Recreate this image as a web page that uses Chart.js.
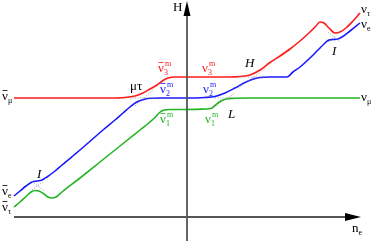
<!DOCTYPE html>
<html><head><meta charset="utf-8">
<script src="https://cdn.jsdelivr.net/npm/chart.js@4/dist/chart.umd.min.js"></script>
<style>html,body{margin:0;padding:0;background:#fff;overflow:hidden}</style>
</head><body>
<canvas id="c" width="374" height="241" style="width:374px;height:241px;display:block"></canvas>
<script>
// n_e (horizontal) and H (vertical) values of each eigenvalue branch
const redNe   = [-173,-127,-77,-62,-52,-44,-37,-30,-24,-19,-12,-2,43,53,63,73,83,93,103,113,123,129,133,137,142,148,153,159,166,173];
const redH    = [119,119,119,119.5,121,124,128,132,136.5,139,140,140,140,140.5,142,147,154.5,161,168,176,185,191,195,194,189,184,185,189,196,204];
const blueNe  = [-173,-167,-161,-155,-150,-145,-140,-132,-125,-107,-84,-72,-64,-57,-51,-45,-39,-27,-2,18,28,38,48,58,65,73,83,100,106,113,123,131,137,141,146,151,155,163,173];
const blueH   = [21,26,31,35,36,37,40,46,52,67,87,97,104,110,114.5,117,118.5,119,119,119.5,120.5,124,129,134.5,137.5,139.5,140,140,145,150,159,167,173,176.5,177.5,178,180,186,194];
const greenNe = [-173,-167,-161,-156,-152,-148,-143,-139,-135,-131,-125,-107,-87,-67,-47,-37,-32,-28,-23,-17,-2,18,24,28,33,39,48,63,173];
const greenH  = [10,15,20.5,25,26.5,26,23,20,19,20,25,39,55,71,87,95,99.5,104,107,107.5,107.5,108,108.5,111.5,115.5,118,118.7,119,119];
// unperturbed level crossings (dotted), pairs of [n_e, H]
const crossMuTau = [[[-57,119],[-31,119]],[[-52,111],[-34,127]]];
const crossH     = [[[51,140],[81,140]],[[51,129],[79,149]]];
const crossL     = [[[28,119],[48,119]],[[25,109],[48,124]]];
const crossIleft = [[[-155,36],[-143,26]],[[-155,27],[-143,36]]];
const crossIright= [[[141,185],[153,175]],[[141,175],[153,185]]];
// axis extents
const axisNe = [-173, 174];
const axisH  = [-24, 216];

const RED='#ff1a1a', BLUE='#1a1aff', GREEN='#22b422';
function curve(xs, ys, color){
  return {data: xs.map((x,i)=>({x, y: ys[i]})), borderColor: color, borderWidth: 1.6,
          pointRadius: 0, cubicInterpolationMode: 'monotone', fill: false, clip: false};
}
function dotted(pairs){
  return pairs.map(seg=>({data: seg.map(p=>({x:p[0], y:p[1]})), borderColor:'#888', borderWidth:0.8,
          borderDash:[1,1.5], pointRadius:0, fill:false, clip:false}));
}

// labels: [n_e, H(baseline), base, bar, sub, sup, color, style]
const labels = [
  [-185,117,'ν',true,'μ','', '#000',''],
  [-185,22,'ν',true,'e','', '#000',''],
  [-185,6,'ν',true,'τ','', '#000',''],
  [174,204,'ν',false,'τ','', '#000',''],
  [174,189,'ν',false,'e','', '#000',''],
  [174,116,'ν',false,'μ','', '#000',''],
  [-29,145,'ν',true,'3','m', RED,''],
  [-27,124,'ν',true,'2','m', BLUE,''],
  [-27,94,'ν',true,'1','m', GREEN,''],
  [15,145,'ν',false,'3','m', RED,''],
  [16,124,'ν',false,'2','m', BLUE,''],
  [18,94,'ν',false,'1','m', GREEN,''],
  [-57,127,'μτ',false,'','', '#000',''],
  [58,150,'H',false,'','', '#000','italic '],
  [41,99,'L',false,'','', '#000','italic '],
  [-150,39,'I',false,'','', '#000','italic '],
  [145,162,'I',false,'','', '#000','italic '],
  [-14,206,'H',false,'','', '#000',''],
  [165,-15,'n',false,'e','', '#000','']
];

const overlay = {
  id:'overlay',
  afterDatasetsDraw(chart){
    const {ctx, scales:{x, y}} = chart;
    const x0 = x.getPixelForValue(0), y0 = y.getPixelForValue(0);
    ctx.save();
    ctx.strokeStyle = '#555'; ctx.lineWidth = 1.8;
    // vertical H axis
    const yTop = y.getPixelForValue(axisH[1]);
    ctx.beginPath(); ctx.moveTo(x0, y.getPixelForValue(axisH[0])); ctx.lineTo(x0, yTop+12); ctx.stroke();
    ctx.fillStyle = '#000';
    ctx.beginPath(); ctx.moveTo(x0, yTop); ctx.lineTo(x0-3.5, yTop+15); ctx.lineTo(x0+3.5, yTop+15); ctx.closePath(); ctx.fill();
    // horizontal n_e axis
    const xR = x.getPixelForValue(axisNe[1]);
    ctx.beginPath(); ctx.moveTo(x.getPixelForValue(axisNe[0]), y0); ctx.lineTo(xR-12, y0); ctx.stroke();
    ctx.beginPath(); ctx.moveTo(xR, y0); ctx.lineTo(xR-16, y0-4); ctx.lineTo(xR-16, y0+4); ctx.closePath(); ctx.fill();
    // labels
    ctx.textBaseline = 'alphabetic'; ctx.textAlign = 'left';
    for (const [lx, ly, base, bar, sub, sup, color, style] of labels){
      const px = x.getPixelForValue(lx), py = y.getPixelForValue(ly);
      const big = base === 'ν' ? 13 : 13;
      ctx.fillStyle = color; ctx.strokeStyle = color;
      ctx.font = style + big + 'px "Liberation Serif", "DejaVu Serif", serif';
      ctx.fillText(base, px, py);
      const w = ctx.measureText(base).width;
      if (bar){ ctx.lineWidth = 0.8; ctx.beginPath(); ctx.moveTo(px+0.5, py-9.5); ctx.lineTo(px+w-0.5, py-9.5); ctx.stroke(); }
      ctx.font = '8px "Liberation Serif", "DejaVu Serif", serif';
      if (sub) ctx.fillText(sub, px+w, py+3);
      if (sup) ctx.fillText(sup, px+w+1, py-6);
    }
    ctx.restore();
  }
};

new Chart(document.getElementById('c'), {
  type: 'line',
  data: { datasets: [
    ...dotted(crossMuTau), ...dotted(crossH), ...dotted(crossL), ...dotted(crossIleft), ...dotted(crossIright),
    curve(redNe, redH, RED), curve(blueNe, blueH, BLUE), curve(greenNe, greenH, GREEN)
  ]},
  options: {
    responsive: false, animation: false, devicePixelRatio: 1,
    layout: {padding: 0},
    plugins: {legend: {display: false}, tooltip: {enabled: false}},
    scales: {
      x: {type: 'linear', min: -187, max: 187, display: false},
      y: {type: 'linear', min: -24, max: 217, display: false}
    }
  },
  plugins: [overlay]
});
</script>
</body></html>
